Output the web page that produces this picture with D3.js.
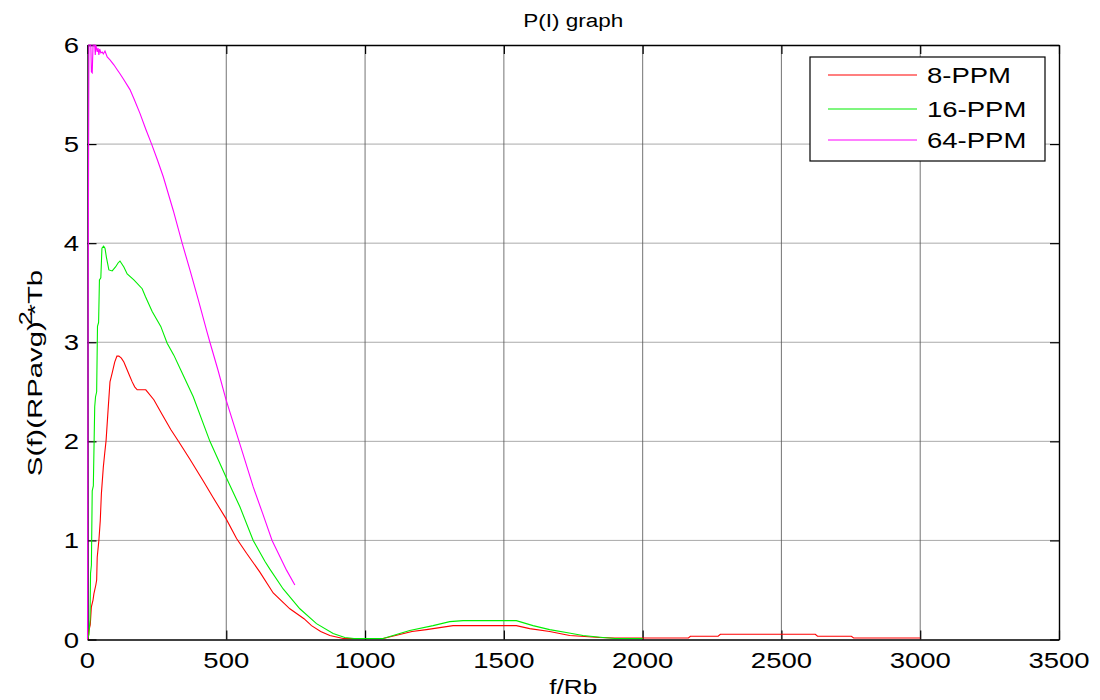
<!DOCTYPE html>
<html>
<head>
<meta charset="utf-8">
<script src="https://cdn.jsdelivr.net/npm/d3@7"></script>
<style>
  html, body { margin: 0; padding: 0; background: #fff; }
  svg { display: block; }
  text { font-family: "Liberation Sans", Arial, sans-serif; fill: #000; }
</style>
</head>
<body>
<svg id="chart" width="1100" height="700"></svg>
<script>
// Normalised power spectral density of L-PPM signals, S(f)(R*Pavg)^2*Tb versus f/Rb
const seriesNames = ["8-PPM", "16-PPM", "64-PPM"];
const seriesColors = ["#ff0000", "#00ee00", "#ff00ff"];

const freq8 = [0, 3, 5, 10, 14, 20, 23, 30, 33, 35, 41, 46, 50, 57, 62, 67, 74, 81, 89, 98, 106, 113, 122, 131, 143, 152, 161, 170, 179, 210, 239, 269, 300, 330, 369, 417, 453, 499, 537, 573, 621, 669, 729, 780, 807, 840, 873, 921, 1000, 1065, 1125, 1169, 1221, 1269, 1317, 1545, 1593, 1665, 1737, 1845, 1900, 2000, 2165, 2172, 2272, 2280, 2622, 2630, 2752, 2760, 3000];
const psd8 = [0, 0.02, 0.09, 0.15, 0.33, 0.40, 0.46, 0.55, 0.60, 0.83, 1.0, 1.2, 1.47, 1.74, 1.88, 2.01, 2.31, 2.60, 2.69, 2.80, 2.86, 2.86, 2.84, 2.80, 2.72, 2.66, 2.60, 2.55, 2.52, 2.52, 2.42, 2.27, 2.12, 1.99, 1.82, 1.60, 1.43, 1.22, 1.02, 0.87, 0.68, 0.47, 0.31, 0.21, 0.14, 0.08, 0.04, 0.01, 0.01, 0.01, 0.05, 0.08, 0.10, 0.12, 0.14, 0.14, 0.11, 0.08, 0.04, 0.02, 0.015, 0.015, 0.015, 0.033, 0.033, 0.053, 0.053, 0.033, 0.033, 0.015, 0.015];

const freq16 = [0, 5, 9, 11, 14, 17, 21, 26, 29, 33, 36, 40, 43, 48, 52, 58, 63, 68, 77, 89, 101, 110, 117, 124, 131, 143, 167, 197, 209, 233, 264, 287, 311, 336, 381, 441, 499, 549, 597, 639, 657, 705, 765, 825, 885, 927, 960, 1065, 1101, 1161, 1245, 1305, 1353, 1545, 1605, 1665, 1725, 1785, 1857, 1900, 2000];
const psd16 = [0, 0.05, 0.2, 0.67, 0.75, 1.5, 1.55, 2.35, 2.45, 2.5, 3.16, 3.2, 3.63, 3.65, 3.95, 3.97, 3.95, 3.86, 3.73, 3.72, 3.76, 3.80, 3.82, 3.79, 3.76, 3.69, 3.63, 3.54, 3.46, 3.31, 3.16, 2.99, 2.87, 2.72, 2.45, 2.0, 1.64, 1.34, 1.0, 0.79, 0.71, 0.51, 0.31, 0.16, 0.06, 0.02, 0.01, 0.01, 0.04, 0.09, 0.14, 0.18, 0.19, 0.19, 0.14, 0.10, 0.07, 0.04, 0.02, 0.01, 0.01];

const freq64 = [0, 2, 5, 12, 14, 17, 20, 26, 28, 30, 35, 38, 41, 44, 48, 53, 57, 63, 71, 81, 95, 107, 117, 131, 153, 167, 189, 210, 231, 252, 273, 309, 341, 370, 399, 429, 441, 470, 499, 546, 597, 630, 665, 717, 747];
const psd64 = [0, 3.0, 6.0, 6.0, 5.73, 5.72, 6.0, 6.0, 5.9, 6.0, 5.93, 5.97, 5.9, 5.96, 5.92, 5.93, 5.91, 5.94, 5.88, 5.85, 5.80, 5.75, 5.71, 5.65, 5.55, 5.46, 5.31, 5.15, 5.0, 4.84, 4.67, 4.33, 4.0, 3.72, 3.43, 3.12, 3.0, 2.72, 2.42, 2.0, 1.54, 1.28, 1.0, 0.70, 0.55];

const xTicks = [0, 500, 1000, 1500, 2000, 2500, 3000, 3500];
const yTicks = [0, 1, 2, 3, 4, 5, 6];

const titleText = "P(I) graph";
const xLabelText = "f/Rb";

const W = 1100, H = 700;
const plot = { left: 87.5, right: 1059, top: 45, bottom: 639.5 };
const stretch = 1.25;   // wide glyph rendering of the figure's fonts

const svg = d3.select("#chart");
const x = d3.scaleLinear().domain([0, 3500]).range([plot.left, plot.right]);
const y = d3.scaleLinear().domain([0, 6]).range([plot.bottom, plot.top]);

// text helper: positions via transform so glyphs can be widened horizontally
function label(g, tx, ty, str, opts = {}) {
  const t = g.append("text")
    .attr("transform", `translate(${tx},${ty}) ${opts.rotate ? `rotate(${opts.rotate})` : ""} scale(${opts.sx || stretch},1)`)
    .attr("text-anchor", opts.anchor || "middle")
    .attr("font-size", opts.size || 22)
    .text(str);
  return t;
}

// grid
const grid = svg.append("g");
grid.selectAll("line.v").data(xTicks.filter(d => d > 0 && d < 3500)).enter().append("line")
  .attr("x1", d => x(d)).attr("x2", d => x(d))
  .attr("y1", plot.top).attr("y2", plot.bottom)
  .attr("stroke", "#808080").attr("stroke-width", 1.1);
grid.selectAll("line.h").data(yTicks.filter(d => d > 0 && d < 6)).enter().append("line")
  .attr("x1", plot.left).attr("x2", plot.right)
  .attr("y1", d => y(d)).attr("y2", d => y(d))
  .attr("stroke", "#555").attr("stroke-width", 1).attr("stroke-dasharray", "1,1");

// axes with inward ticks on all four sides
const tickLen = 9;
const axBottom = svg.append("g").attr("transform", `translate(0,${plot.bottom})`)
  .call(d3.axisBottom(x).tickValues(xTicks).tickSizeInner(-tickLen).tickSizeOuter(0).tickFormat(""));
const axTop = svg.append("g").attr("transform", `translate(0,${plot.top})`)
  .call(d3.axisTop(x).tickValues(xTicks).tickSizeInner(-tickLen).tickSizeOuter(0).tickFormat(""));
const axLeft = svg.append("g").attr("transform", `translate(${plot.left},0)`)
  .call(d3.axisLeft(y).tickValues(yTicks).tickSizeInner(-tickLen).tickSizeOuter(0).tickFormat(""));
const axRight = svg.append("g").attr("transform", `translate(${plot.right},0)`)
  .call(d3.axisRight(y).tickValues(yTicks).tickSizeInner(-tickLen).tickSizeOuter(0).tickFormat(""));
[axBottom, axTop, axLeft, axRight].forEach(a => {
  a.select(".domain").attr("stroke", "#000").attr("stroke-width", 1.4);
  a.selectAll(".tick line").attr("stroke", "#000").attr("stroke-width", 1.2);
});

// tick labels
const tl = svg.append("g");
xTicks.forEach(v => label(tl, x(v), 668, String(v)));
yTicks.forEach(v => label(tl, 79, y(v) + 8, String(v), { anchor: "end" }));

// series
const line = d3.line().x(d => x(d[0])).y(d => y(d[1]));
const series = [
  { name: seriesNames[0], color: seriesColors[0], pts: d3.zip(freq8, psd8) },
  { name: seriesNames[1], color: seriesColors[1], pts: d3.zip(freq16, psd16) },
  { name: seriesNames[2], color: seriesColors[2], pts: d3.zip(freq64, psd64) }
];
svg.append("g").selectAll("path").data(series).enter().append("path")
  .attr("d", d => line(d.pts))
  .attr("fill", "none")
  .attr("stroke", d => d.color)
  .attr("stroke-width", 1.1)
  .attr("stroke-linejoin", "miter");

// title and axis labels
label(svg, (plot.left + plot.right) / 2, 27, titleText, { size: 18 });
label(svg, (plot.left + plot.right) / 2, 694, xLabelText, { size: 21 });

const yl = svg.append("text")
  .attr("text-anchor", "middle")
  .attr("font-size", 21);
yl.append("tspan").text("S(f)(RPavg)");
yl.append("tspan").attr("font-size", 18).attr("dx", -3).attr("dy", -10).text("2");
yl.append("tspan").attr("dx", -3).attr("dy", 10).text("*Tb");
const natural = yl.node().getComputedTextLength();
yl.attr("transform", `translate(42,373) rotate(-90) scale(${215 / natural},1)`);

// legend
const lg = svg.append("g");
lg.append("rect").attr("x", 810).attr("y", 57).attr("width", 235).attr("height", 104)
  .attr("fill", "#fff").attr("stroke", "#000").attr("stroke-width", 1.2);
const rowY = [75, 109, 140];
series.forEach((s, i) => {
  lg.append("line").attr("x1", 828).attr("x2", 917).attr("y1", rowY[i]).attr("y2", rowY[i])
    .attr("stroke", s.color).attr("stroke-width", 1.2);
  label(lg, 927, rowY[i] + 8, s.name, { anchor: "start" });
});
</script>
</body>
</html>
